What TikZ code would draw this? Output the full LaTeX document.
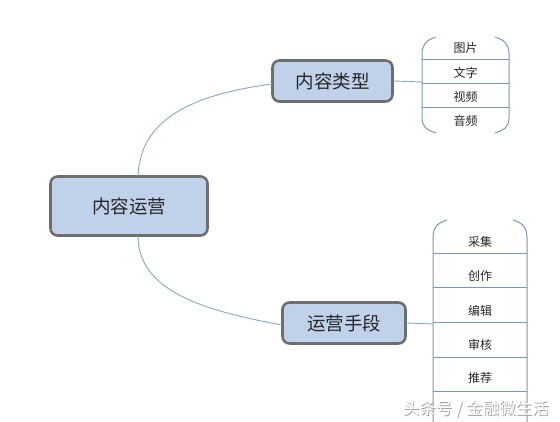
\documentclass[tikz,border=0pt]{standalone}
\usepackage{fontspec}
\newfontfamily\cjk{Noto Sans CJK SC}
\definecolor{boxfill}{HTML}{BFD2EA}
\definecolor{boxdraw}{HTML}{6E6E6E}
\definecolor{linkc}{HTML}{86A8CC}
\definecolor{listc}{HTML}{7C97B8}
\begin{document}
\begin{tikzpicture}[x=1pt,y=-1pt,
  mainbox/.style={draw=boxdraw,fill=boxfill,line width=2.6pt,rounded corners=7pt,font=\cjk\fontsize{18.5}{20}\selectfont,text=black!85,inner sep=0pt},
  listtext/.style={font=\cjk\fontsize{12}{14}\selectfont,text=black!85,inner sep=0pt},
  link/.style={draw=linkc,line width=0.9pt},
  listline/.style={draw=listc,line width=1pt}]
\useasboundingbox (0,0) rectangle (560,422);
\fill[white] (0,0) rectangle (560,422);
% main boxes
\node[mainbox,minimum width=157pt,minimum height=59pt] (main) at (129,206) {内容运营};
\node[mainbox,minimum width=120pt,minimum height=41pt] (type) at (332.5,81) {内容类型};
\node[mainbox,minimum width=123pt,minimum height=41pt] (means) at (344,323) {运营手段};
% curves
\coordinate (mt) at (138,176.5);
\coordinate (mb) at (138,235.5);
\coordinate (te) at (272,84);
\coordinate (me) at (282,325);
\draw[link] (mt) .. controls (140,120) and (190,95) .. (te);
\draw[link] (mb) .. controls (138,290) and (200,310) .. (me);
% connectors to lists
\coordinate (ul) at (422,82);
\coordinate (ll) at (433,324);
\draw[link] (type.east) -- (ul);
\draw[link] (means.east) -- (ll);
% upper list
\draw[listline] (436,37) .. controls (426,40) and (422,45) .. (422,54) -- (422,118) .. controls (422,126) and (426,130) .. (436,133);
\draw[listline] (495,37) .. controls (505,40) and (509,45) .. (509,54) -- (509,118) .. controls (509,126) and (505,130) .. (495,133);
\foreach \yy in {60,84,108} \draw[listline] (422,\yy) -- (509,\yy);
\node[listtext] (l1) at (465.5,48) {图片};
\node[listtext] (l2) at (465.5,73) {文字};
\node[listtext] (l3) at (465.5,97) {视频};
\node[listtext] (l4) at (465.5,121) {音频};
% lower list
\draw[listline] (447,220) .. controls (437,223) and (433,228) .. (433,238) -- (433,422);
\draw[listline] (513,220) .. controls (523,223) and (527,228) .. (527,238) -- (527,422);
\foreach \yy in {254,288,323,357,391} \draw[listline] (433,\yy) -- (527,\yy);
\node[listtext] (m1) at (480,242) {采集};
\node[listtext] (m2) at (480,276) {创作};
\node[listtext] (m3) at (480,311) {编辑};
\node[listtext] (m4) at (480,345) {审核};
\node[listtext] (m5) at (480,378) {推荐};
% watermark
\node[font=\cjk\fontsize{16.5}{18}\selectfont,text=black!40,inner sep=0pt] (wm1) at (476.8,409.8) {头条号 / 金融微生活};
\node[font=\cjk\fontsize{16.5}{18}\selectfont,text=white,inner sep=0pt] (wm2) at (476,409) {头条号 / 金融微生活};
\end{tikzpicture}
\end{document}
